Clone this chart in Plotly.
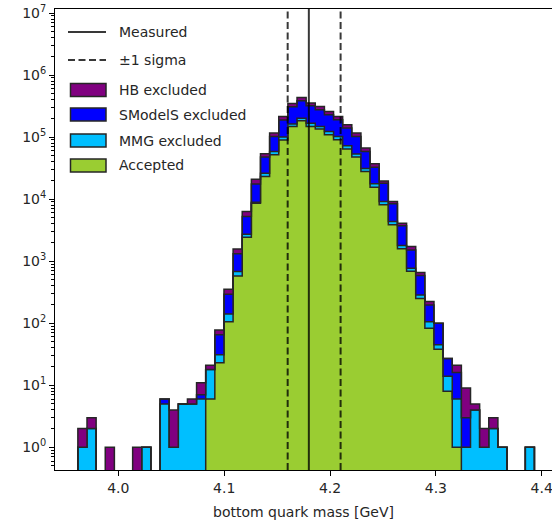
import numpy as np
import plotly.graph_objects as go

# Histogram binning (50 equal bins over the sampled mass range)
BIN_LO = 3.9618
BIN_HI = 4.3931
N_BINS = 50

# Counts per bin, one list per category (stacked bottom -> top)
accepted = [0, 0, 0, 0, 0, 0, 0, 0, 0, 0,
            0, 0, 0, 0, 6, 23, 106, 579, 2440, 8600,
            23200, 52000, 90000, 148000, 183000, 148000, 135000, 109000, 90400, 64600,
            48000, 28000, 15500, 8090, 3850, 1580, 690, 250, 83, 38,
            8, 1, 0, 0, 0, 0, 0, 0, 0, 0]
mmg_excluded = [1, 2, 0, 0, 0, 0, 0, 1, 0, 5,
                1, 5, 5, 6, 12, 8, 35, 100, 284, 300,
                3000, 6600, 10000, 15000, 19000, 20000, 13000, 14000, 11600, 7800,
                5500, 3200, 2200, 1050, 500, 205, 81, 36, 23, 7,
                6, 5, 1, 4, 1, 2, 1, 0, 0, 1]
smodels_excluded = [0, 0, 0, 0, 0, 0, 0, 0, 0, 1,
                    0, 0, 0, 1, 0, 34, 153, 633, 2516, 8700,
                    21400, 43400, 88000, 145000, 183000, 152000, 128000, 106000, 88000, 67600,
                    48500, 27300, 15100, 8960, 4050, 1925, 749, 300, 91, 55,
                    13, 10, 2, 0, 0, 0, 0, 0, 0, 0]
hb_excluded = [1, 1, 0, 1, 0, 0, 1, 0, 0, 0,
               3, 0, 1, 4, 3, 13, 59, 266, 1070, 3400,
               6200, 14000, 27000, 40000, 50000, 33000, 36000, 30000, 25000, 18000,
               14000, 8000, 4300, 1600, 740, 390, 200, 69, 26, 0,
               0, 5, 6, 1, 1, 1, 0, 0, 0, 0]

# Measured bottom quark mass and its asymmetric 1-sigma band
mb_measured = 4.18
mb_sigma_lo = 4.16
mb_sigma_hi = 4.21

x_ticks = [4.0, 4.1, 4.2, 4.3, 4.4]
x_tick_text = ["4.0", "4.1", "4.2", "4.3", "4.4"]
y_ticks = [1, 10, 100, 1e3, 1e4, 1e5, 1e6, 1e7]
y_tick_text = ["10<sup>%d</sup>" % k for k in range(8)]

edges = np.linspace(BIN_LO, BIN_HI, N_BINS + 1)

series = [
    ("Accepted", accepted, "#9acd32"),
    ("MMG excluded", mmg_excluded, "#00bfff"),
    ("SModelS excluded", smodels_excluded, "#0000ff"),
    ("HB excluded", hb_excluded, "#800080"),
]

EDGE = "#262626"
FONT = "DejaVu Sans"
FLOOR = 0.05  # stand-in for zero on the log axis (below the visible range)

fig = go.Figure()

# Baseline path that the first filled layer fills up to
x_step = np.concatenate([[edges[0]], edges])
fig.add_trace(go.Scatter(x=x_step, y=[FLOOR] * len(x_step), mode="lines",
                         line=dict(width=0), hoverinfo="skip", showlegend=False))

# Each category is a filled step outline on top of the ones below it
cumulative = np.zeros(N_BINS)
for name, counts, color in series:
    cumulative = cumulative + np.asarray(counts, dtype=float)
    tops = np.where(cumulative > 0, cumulative, FLOOR)
    y_step = np.concatenate([[FLOOR], tops, [FLOOR]])
    fig.add_trace(go.Scatter(
        x=x_step, y=y_step, name=name, mode="lines", line_shape="hv",
        line=dict(color=EDGE, width=1.5), fill="tonexty", fillcolor=color,
        showlegend=False,
    ))

# Vertical reference lines
line_col = "rgba(0,0,0,0.78)"
fig.add_shape(type="line", xref="x", yref="paper", x0=mb_measured, x1=mb_measured,
              y0=0, y1=1, line=dict(color=line_col, width=2), layer="above")
for xv in (mb_sigma_lo, mb_sigma_hi):
    fig.add_shape(type="line", xref="x", yref="paper", x0=xv, x1=xv, y0=0, y1=1,
                  line=dict(color=line_col, width=2, dash="7px,3.5px"), layer="above")

# Figure geometry (pixels)
W, H = 552, 524
ML, MR, MT, MB = 55, 0, 9, 54
PW, PH = W - ML - MR, H - MT - MB


def px(xp):
    return (xp - ML) / PW


def py(yp):
    return (H - MB - yp) / PH


# Legend drawn in the upper-left corner of the axes
legend_rows = [
    ("Measured", "solid", None, 32),
    ("\u00b11 sigma", "dash", None, 60),
    ("HB excluded", "patch", "#800080", 90),
    ("SModelS excluded", "patch", "#0000ff", 114.5),
    ("MMG excluded", "patch", "#00bfff", 140.5),
    ("Accepted", "patch", "#9acd32", 165.5),
]
for label, kind, color, yc in legend_rows:
    if kind == "patch":
        fig.add_shape(type="rect", xref="paper", yref="paper",
                      x0=px(70.5), x1=px(106), y0=py(yc - 6.5), y1=py(yc + 6.5),
                      fillcolor=color, line=dict(color=EDGE, width=1.5), layer="above")
    else:
        fig.add_shape(type="line", xref="paper", yref="paper",
                      x0=px(68), x1=px(106), y0=py(yc), y1=py(yc),
                      line=dict(color="rgba(0,0,0,0.78)", width=2,
                                dash="solid" if kind == "solid" else "7px,3.5px"),
                      layer="above")
    fig.add_annotation(text=label, xref="paper", yref="paper", x=px(117), y=py(yc),
                       xanchor="left", yanchor="middle", showarrow=False,
                       font=dict(family=FONT, size=14, color="#262626"))

fig.update_layout(
    width=W, height=H,
    margin=dict(l=ML, r=MR, t=MT, b=MB, pad=0),
    plot_bgcolor="white", paper_bgcolor="white",
    font=dict(family=FONT, size=14, color="#262626"),
)
fig.update_xaxes(
    range=[3.9402, 4.4097], tickvals=x_ticks, ticktext=x_tick_text,
    ticklabeloverflow="allow",
    ticks="outside", ticklen=5, tickwidth=1, tickcolor="#000",
    showline=True, linecolor="#000", linewidth=1, mirror=True,
    showgrid=False, zeroline=False,
    title=dict(text="bottom quark mass [GeV]", standoff=12, font=dict(size=14)),
)
fig.update_yaxes(
    type="log", range=[-0.366, 7.065], tickvals=y_ticks, ticktext=y_tick_text,
    ticks="outside", ticklen=5, tickwidth=1, tickcolor="#000",
    minor=dict(ticks="outside", ticklen=3, tickcolor="#000", dtick="D1"),
    showline=True, linecolor="#000", linewidth=1, mirror=False,
    showgrid=False, zeroline=False,
)

fig.write_html("out.html")
